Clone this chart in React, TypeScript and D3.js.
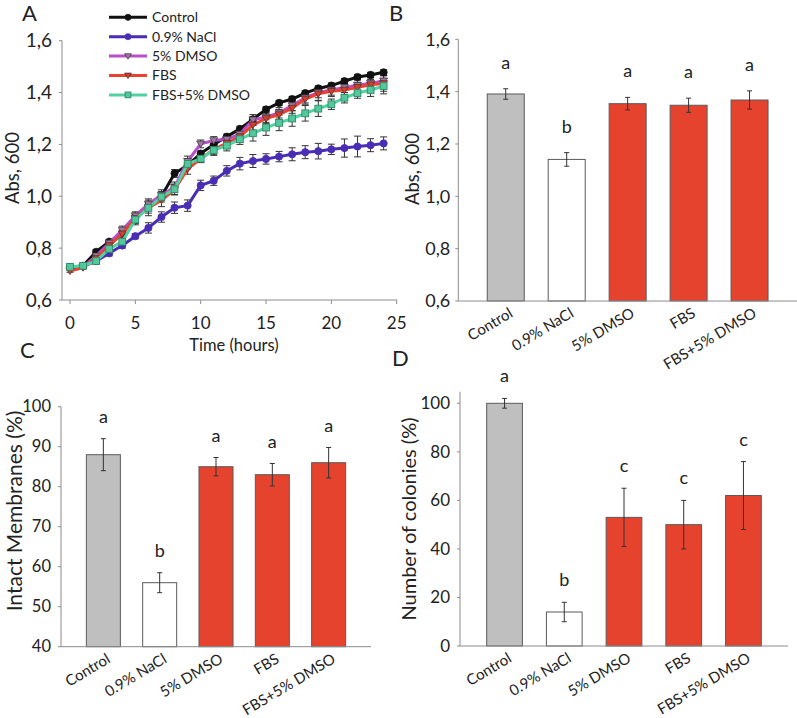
import React from "react";
import * as d3 from "d3";

const FONT = "Lato, 'Open Sans', sans-serif";

// ---- Panel A data ----
const hours = d3.range(0, 25);
const seriesNames = ["Control", "0.9% NaCl", "5% DMSO", "FBS", "FBS+5% DMSO"];
const controlA = [0.725, 0.732, 0.786, 0.825, 0.857, 0.92, 0.965, 1.0, 1.088, 1.12, 1.165, 1.2, 1.23, 1.26, 1.297, 1.335, 1.36, 1.375, 1.398, 1.416, 1.427, 1.444, 1.46, 1.468, 1.478];
const naclA = [0.727, 0.73, 0.75, 0.78, 0.81, 0.846, 0.878, 0.92, 0.956, 0.964, 1.042, 1.06, 1.098, 1.126, 1.136, 1.144, 1.153, 1.162, 1.17, 1.174, 1.181, 1.186, 1.192, 1.197, 1.204];
const dmsoA = [0.72, 0.728, 0.77, 0.82, 0.87, 0.925, 0.97, 1.005, 1.035, 1.135, 1.202, 1.215, 1.22, 1.24, 1.295, 1.305, 1.322, 1.35, 1.38, 1.4, 1.41, 1.42, 1.428, 1.436, 1.445];
const fbsA = [0.712, 0.725, 0.76, 0.81, 0.855, 0.915, 0.955, 0.985, 1.025, 1.105, 1.145, 1.18, 1.205, 1.23, 1.275, 1.3, 1.315, 1.34, 1.375, 1.395, 1.405, 1.41, 1.42, 1.43, 1.435];
const fbsDmsoA = [0.728, 0.732, 0.75, 0.797, 0.825, 0.91, 0.955, 0.998, 1.027, 1.125, 1.145, 1.178, 1.195, 1.22, 1.243, 1.265, 1.283, 1.3, 1.32, 1.338, 1.355, 1.38, 1.398, 1.41, 1.425];
const controlErr = [0.005, 0.005, 0.008, 0.008, 0.01, 0.01, 0.01, 0.01, 0.015, 0.01, 0.01, 0.01, 0.01, 0.01, 0.01, 0.01, 0.01, 0.01, 0.01, 0.01, 0.01, 0.01, 0.01, 0.01, 0.01];
const naclErr = [0.005, 0.005, 0.01, 0.01, 0.01, 0.01, 0.02, 0.02, 0.022, 0.022, 0.02, 0.018, 0.02, 0.024, 0.025, 0.02, 0.02, 0.025, 0.025, 0.03, 0.02, 0.035, 0.04, 0.025, 0.025];
const dmsoErr = [0.005, 0.005, 0.01, 0.01, 0.015, 0.015, 0.02, 0.02, 0.02, 0.02, 0.015, 0.015, 0.015, 0.02, 0.02, 0.02, 0.02, 0.02, 0.02, 0.02, 0.02, 0.02, 0.02, 0.02, 0.02];
const fbsErr = [0.005, 0.005, 0.01, 0.01, 0.015, 0.02, 0.02, 0.025, 0.02, 0.02, 0.015, 0.02, 0.02, 0.02, 0.02, 0.02, 0.02, 0.02, 0.02, 0.025, 0.02, 0.02, 0.02, 0.02, 0.03];
const fbsDmsoErr = [0.005, 0.005, 0.01, 0.01, 0.015, 0.02, 0.03, 0.02, 0.02, 0.02, 0.015, 0.02, 0.02, 0.02, 0.03, 0.03, 0.03, 0.03, 0.03, 0.03, 0.02, 0.02, 0.02, 0.025, 0.03];
const xTicksA = [0, 5, 10, 15, 20, 25];
const yTicksA = [0.6, 0.8, 1.0, 1.2, 1.4, 1.6];

// ---- Bar panels ----
const groups = ["Control", "0.9% NaCl", "5% DMSO", "FBS", "FBS+5% DMSO"];
const absB = [1.391, 1.141, 1.354, 1.348, 1.368];
const absBErr = [0.02, 0.026, 0.024, 0.027, 0.035];
const absBLetters = ["a", "b", "a", "a", "a"];
const yTicksB = [0.6, 0.8, 1.0, 1.2, 1.4, 1.6];

const membranesC = [88, 56, 85, 83, 86];
const membranesCErr = [4, 2.5, 2.3, 2.8, 3.8];
const membranesCLetters = ["a", "b", "a", "a", "a"];
const yTicksC = [40, 50, 60, 70, 80, 90, 100];

const coloniesD = [100, 14, 53, 50, 62];
const coloniesDErr = [2, 4, 12, 10, 14];
const coloniesDLetters = ["a", "b", "c", "c", "c"];
const yTicksD = [0, 20, 40, 60, 80, 100];

const barFills = ["#bfbfbf", "#ffffff", "#e6432f", "#e6432f", "#e6432f"];
const AXIS = "#8c8c8c";
const TXT = "#222";

const comma = (v: number) => d3.format(".1f")(v).replace(".", ",");

function PanelA() {
  const x = d3.scaleLinear().domain([0, 25]).range([70, 396.7]);
  const y = d3.scaleLinear().domain([0.6, 1.6]).range([300, 40.7]);
  const series = [
    { name: seriesNames[0], v: controlA, e: controlErr, color: "#111111", marker: "circle", mfill: "#111111", mstroke: "#111111" },
    { name: seriesNames[1], v: naclA, e: naclErr, color: "#4a2db5", marker: "circle", mfill: "#4a2db5", mstroke: "#4a2db5" },
    { name: seriesNames[2], v: dmsoA, e: dmsoErr, color: "#b550c8", marker: "tri", mfill: "#9a7b9e", mstroke: "#4a3a4a" },
    { name: seriesNames[3], v: fbsA, e: fbsErr, color: "#e8432f", marker: "tri", mfill: "#d0402e", mstroke: "#5a3030" },
    { name: seriesNames[4], v: fbsDmsoA, e: fbsDmsoErr, color: "#52d2a2", marker: "sq", mfill: "#52c89c", mstroke: "#2f8a68" },
  ];
  const line = d3.line<number>().x((_, i) => x(hours[i])).y((d) => y(d));
  const marker = (s: any, cx: number, cy: number, key: string, size = 1) => {
    if (s.marker === "circle") return <circle key={key} cx={cx} cy={cy} r={3.6 * size} fill={s.mfill} stroke={s.mstroke} strokeWidth={0.8} />;
    if (s.marker === "tri") {
      const r = 4 * size;
      return <path key={key} d={`M${cx - r},${cy - r * 0.7}L${cx + r},${cy - r * 0.7}L${cx},${cy + r * 0.9}Z`} fill={s.mfill} stroke={s.mstroke} strokeWidth={0.8} />;
    }
    const h = 3.4 * size;
    return <rect key={key} x={cx - h} y={cy - h} width={2 * h} height={2 * h} fill={s.mfill} stroke={s.mstroke} strokeWidth={0.9} />;
  };
  return (
    <g>
      <text x={22} y={21} fontSize={22} fill={TXT}>A</text>
      {/* axes */}
      <line x1={62} x2={62} y1={40.7} y2={300} stroke={AXIS} />
      <line x1={62} x2={397} y1={300} y2={300} stroke={AXIS} />
      {yTicksA.map((t) => (
        <g key={t}>
          <line x1={59} x2={62} y1={y(t)} y2={y(t)} stroke={AXIS} />
          <text x={52} y={y(t)} dy="0.35em" textAnchor="end" fontSize={19} fill={TXT}>{comma(t)}</text>
        </g>
      ))}
      {xTicksA.map((t) => (
        <g key={t}>
          <line x1={x(t)} x2={x(t)} y1={300} y2={304} stroke={AXIS} />
          <text x={x(t)} y={329} textAnchor="middle" fontSize={17} fill={TXT}>{t}</text>
        </g>
      ))}
      <text transform={`translate(12,168) rotate(-90)`} textAnchor="middle" dominantBaseline="central" fontSize={18.5} fill={TXT}>Abs, 600</text>
      <text x={234} y={351} textAnchor="middle" fontSize={16.5} fill={TXT}>Time (hours)</text>
      {/* error bars */}
      {series.map((s) =>
        s.v.map((v, i) => {
          const cx = x(hours[i]);
          const y1 = y(v + s.e[i]);
          const y2 = y(v - s.e[i]);
          return (
            <g key={s.name + i} stroke="#333" strokeWidth={1}>
              <line x1={cx} x2={cx} y1={y1} y2={y2} />
              <line x1={cx - 3.5} x2={cx + 3.5} y1={y1} y2={y1} />
              <line x1={cx - 3.5} x2={cx + 3.5} y1={y2} y2={y2} />
            </g>
          );
        })
      )}
      {series.map((s) => (
        <g key={s.name}>
          <path d={line(s.v) || ""} fill="none" stroke={s.color} strokeWidth={3} strokeLinejoin="round" />
          {s.v.map((v, i) => marker(s, x(hours[i]), y(v), s.name + "m" + i))}
        </g>
      ))}
      {/* legend */}
      {series.map((s, i) => {
        const ly = 17.3 + i * 19.4;
        return (
          <g key={"lg" + s.name}>
            <line x1={109} x2={147} y1={ly} y2={ly} stroke={s.color} strokeWidth={3} />
            {marker(s, 128, ly, "lgm" + i, 0.85)}
            <text x={152} y={ly} dy="0.35em" fontSize={14} fill={TXT}>{s.name}</text>
          </g>
        );
      })}
    </g>
  );
}

type BarProps = {
  label: string; labelX: number; labelY: number;
  left: number; right: number; yDomain: [number, number]; yRange: [number, number]; axisTop: number;
  ticks: number[]; fmt: (v: number) => string; tickFont: number; tickGap: number;
  values: number[]; errs: number[]; letters: string[]; letterGap: number;
  pi: number; po: number; title: string; titleX: number; titleY: number; titleFont: number;
};

function BarPanel(p: BarProps) {
  const x = d3.scaleBand<string>().domain(groups).range([p.left, p.right]).paddingInner(p.pi).paddingOuter(p.po);
  const y = d3.scaleLinear().domain(p.yDomain).range(p.yRange);
  const base = p.yRange[0];
  return (
    <g>
      <text x={p.labelX} y={p.labelY} fontSize={22} fill={TXT}>{p.label}</text>
      {groups.map((g, i) => (
        <rect key={g} x={x(g)} y={y(p.values[i])} width={x.bandwidth()} height={base - y(p.values[i])} fill={barFills[i]} stroke="#5a5a5a" strokeWidth={1} />
      ))}
      <line x1={p.left} x2={p.left} y1={p.axisTop} y2={base} stroke={AXIS} />
      <line x1={p.left} x2={p.right} y1={base} y2={base} stroke={AXIS} />
      {p.ticks.map((t) => (
        <g key={t}>
          <line x1={p.left - 3} x2={p.left} y1={y(t)} y2={y(t)} stroke={AXIS} />
          <text x={p.left - p.tickGap} y={y(t)} dy="0.35em" textAnchor="end" fontSize={p.tickFont} fill={TXT}>{p.fmt(t)}</text>
        </g>
      ))}
      {groups.map((g, i) => {
        const cx = (x(g) as number) + x.bandwidth() / 2;
        const top = y(p.values[i] + p.errs[i]);
        const bot = y(p.values[i] - p.errs[i]);
        return (
          <g key={"e" + g}>
            <g stroke="#333" strokeWidth={1}>
              <line x1={cx} x2={cx} y1={top} y2={bot} />
              <line x1={cx - 2.5} x2={cx + 2.5} y1={top} y2={top} />
              <line x1={cx - 2.5} x2={cx + 2.5} y1={bot} y2={bot} />
            </g>
            <text x={cx} y={top - p.letterGap} textAnchor="middle" fontSize={18} fill={TXT}>{p.letters[i]}</text>
            <text transform={`translate(${cx + 8},${base + 15}) rotate(-31)`} textAnchor="end" fontSize={15} fill={TXT}>{g}</text>
          </g>
        );
      })}
      <text transform={`translate(${p.titleX},${p.titleY}) rotate(-90)`} textAnchor="middle" dominantBaseline="central" fontSize={p.titleFont} fill={TXT}>{p.title}</text>
    </g>
  );
}

export default function App() {
  return (
    <svg width={797} height={718} style={{ position: "absolute", left: 0, top: 0, background: "#fff", fontFamily: FONT }}>
      <rect width={797} height={718} fill="#fff" />
      <PanelA />
      <BarPanel label="B" labelX={389} labelY={21} left={458.3} right={797} yDomain={[0.6, 1.6]} yRange={[301, 39.3]} axisTop={39.3}
        ticks={yTicksB} fmt={comma} tickFont={18} tickGap={8} values={absB} errs={absBErr} letters={absBLetters} letterGap={20}
        pi={0.393} po={0.475} title="Abs, 600" titleX={412} titleY={169} titleFont={18.5} />
      <BarPanel label="C" labelX={20} labelY={358} left={61} right={371} yDomain={[40, 100]} yRange={[646.7, 406.7]} axisTop={406.7}
        ticks={yTicksC} fmt={(v) => String(v)} tickFont={16.5} tickGap={10} values={membranesC} errs={membranesCErr} letters={membranesCLetters} letterGap={16}
        pi={0.396} po={0.45} title="Intact Membranes (%)" titleX={13} titleY={511} titleFont={21} />
      <BarPanel label="D" labelX={392} labelY={366} left={460} right={788} yDomain={[0, 100]} yRange={[646, 403.3]} axisTop={391.7}
        ticks={yTicksD} fmt={(v) => String(v)} tickFont={17} tickGap={10} values={coloniesD} errs={coloniesDErr} letters={coloniesDLetters} letterGap={16}
        pi={0.402} po={0.447} title="Number of colonies (%)" titleX={408} titleY={519} titleFont={20} />
    </svg>
  );
}
